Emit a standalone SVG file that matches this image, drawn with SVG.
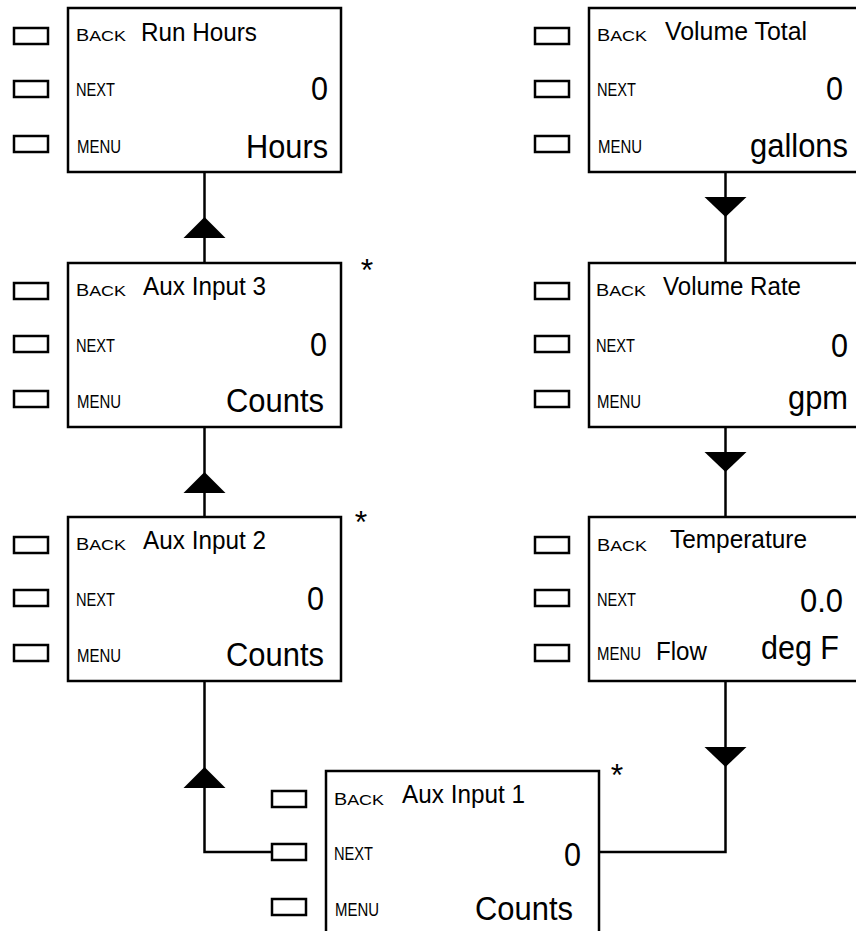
<svg xmlns="http://www.w3.org/2000/svg" xmlns:xlink="http://www.w3.org/1999/xlink" width="856" height="931" viewBox="0 0 856 931">
<style>
.box{fill:#fff;stroke:#000;stroke-width:2.5}
.btn{fill:#fff;stroke:#000;stroke-width:2.5}
.ln{fill:none;stroke:#000;stroke-width:2.5}
.tri{fill:#000;stroke:none}
text{font-family:"Liberation Sans",Arial,sans-serif;fill:#000}
.bk{font-size:16px}
.bk tspan{font-size:14.5px}
.nx{font-size:18px}
.mn{font-size:18px}
.t{font-size:26px}
.v{font-size:33px;text-anchor:end}
.ast{font-size:32px;text-anchor:middle}
</style>
<defs>
<path id="up" d="M0,0 L21,21 L-21,21 Z"/>
<path id="dn" d="M0,0 L21,-20 L-21,-20 Z"/>
<rect id="b" width="34" height="16"/>
</defs>

<g id="connectors">
<line class="ln" x1="204.5" y1="172" x2="204.5" y2="263"/>
<line class="ln" x1="204.5" y1="427" x2="204.5" y2="517"/>
<polyline class="ln" points="272,852 204.5,852 204.5,681"/>
<line class="ln" x1="725.5" y1="172" x2="725.5" y2="263"/>
<line class="ln" x1="725.5" y1="427" x2="725.5" y2="517"/>
<polyline class="ln" points="725.5,681 725.5,852 599,852"/>
<use href="#up" class="tri" x="204.5" y="217"/>
<use href="#up" class="tri" x="204.5" y="472"/>
<use href="#up" class="tri" x="204.5" y="767"/>
<use href="#dn" class="tri" x="725.5" y="217"/>
<use href="#dn" class="tri" x="725.5" y="472"/>
<use href="#dn" class="tri" x="725.5" y="767"/>
</g>

<g id="run-hours">
<rect class="box" x="68" y="8" width="273" height="164"/>
<use href="#b" class="btn" x="14" y="28"/><use href="#b" class="btn" x="14" y="81"/><use href="#b" class="btn" x="14" y="136"/>
<text class="bk" x="76" y="41" textLength="50" lengthAdjust="spacingAndGlyphs">B<tspan>ACK</tspan></text>
<text class="t" x="141" y="41" textLength="116" lengthAdjust="spacingAndGlyphs">Run Hours</text>
<text class="nx" x="76" y="96" textLength="39" lengthAdjust="spacingAndGlyphs">NEXT</text>
<text class="v" x="328" y="100" textLength="17" lengthAdjust="spacingAndGlyphs">0</text>
<text class="mn" x="77" y="153" textLength="44" lengthAdjust="spacingAndGlyphs">MENU</text>
<text class="v" x="328" y="158" textLength="82" lengthAdjust="spacingAndGlyphs">Hours</text>
</g>

<g id="aux-input-3">
<rect class="box" x="68" y="263" width="273" height="164"/>
<use href="#b" class="btn" x="14" y="283"/><use href="#b" class="btn" x="14" y="336"/><use href="#b" class="btn" x="14" y="391"/>
<text class="bk" x="76" y="296" textLength="50" lengthAdjust="spacingAndGlyphs">B<tspan>ACK</tspan></text>
<text class="t" x="143" y="295" textLength="123" lengthAdjust="spacingAndGlyphs">Aux Input 3</text>
<text class="nx" x="76" y="352" textLength="39" lengthAdjust="spacingAndGlyphs">NEXT</text>
<text class="v" x="327" y="356" textLength="17" lengthAdjust="spacingAndGlyphs">0</text>
<text class="mn" x="77" y="408" textLength="44" lengthAdjust="spacingAndGlyphs">MENU</text>
<text class="v" x="324" y="412" textLength="98" lengthAdjust="spacingAndGlyphs">Counts</text>
<text class="ast" x="367" y="281">*</text>
</g>

<g id="aux-input-2">
<rect class="box" x="68" y="517" width="273" height="164"/>
<use href="#b" class="btn" x="14" y="537"/><use href="#b" class="btn" x="14" y="590"/><use href="#b" class="btn" x="14" y="645"/>
<text class="bk" x="76" y="550" textLength="50" lengthAdjust="spacingAndGlyphs">B<tspan>ACK</tspan></text>
<text class="t" x="143" y="549" textLength="123" lengthAdjust="spacingAndGlyphs">Aux Input 2</text>
<text class="nx" x="76" y="606" textLength="39" lengthAdjust="spacingAndGlyphs">NEXT</text>
<text class="v" x="324" y="610" textLength="17" lengthAdjust="spacingAndGlyphs">0</text>
<text class="mn" x="77" y="662" textLength="44" lengthAdjust="spacingAndGlyphs">MENU</text>
<text class="v" x="324" y="666" textLength="98" lengthAdjust="spacingAndGlyphs">Counts</text>
<text class="ast" x="361" y="533">*</text>
</g>

<g id="volume-total">
<rect class="box" x="589" y="8" width="273" height="164"/>
<use href="#b" class="btn" x="535" y="28"/><use href="#b" class="btn" x="535" y="81"/><use href="#b" class="btn" x="535" y="136"/>
<text class="bk" x="597" y="41" textLength="50" lengthAdjust="spacingAndGlyphs">B<tspan>ACK</tspan></text>
<text class="t" x="665" y="40" textLength="142" lengthAdjust="spacingAndGlyphs">Volume Total</text>
<text class="nx" x="597" y="96" textLength="39" lengthAdjust="spacingAndGlyphs">NEXT</text>
<text class="v" x="843" y="100" textLength="17" lengthAdjust="spacingAndGlyphs">0</text>
<text class="mn" x="598" y="153" textLength="44" lengthAdjust="spacingAndGlyphs">MENU</text>
<text class="v" x="848" y="157" textLength="98" lengthAdjust="spacingAndGlyphs">gallons</text>
</g>

<g id="volume-rate">
<rect class="box" x="589" y="263" width="273" height="164"/>
<use href="#b" class="btn" x="535" y="283"/><use href="#b" class="btn" x="535" y="336"/><use href="#b" class="btn" x="535" y="391"/>
<text class="bk" x="596" y="296" textLength="50" lengthAdjust="spacingAndGlyphs">B<tspan>ACK</tspan></text>
<text class="t" x="663" y="295" textLength="138" lengthAdjust="spacingAndGlyphs">Volume Rate</text>
<text class="nx" x="596" y="352" textLength="39" lengthAdjust="spacingAndGlyphs">NEXT</text>
<text class="v" x="848" y="357" textLength="17" lengthAdjust="spacingAndGlyphs">0</text>
<text class="mn" x="597" y="408" textLength="44" lengthAdjust="spacingAndGlyphs">MENU</text>
<text class="v" x="848" y="409" textLength="60" lengthAdjust="spacingAndGlyphs">gpm</text>
</g>

<g id="temperature">
<rect class="box" x="589" y="517" width="273" height="164"/>
<use href="#b" class="btn" x="535" y="537"/><use href="#b" class="btn" x="535" y="590"/><use href="#b" class="btn" x="535" y="645"/>
<text class="bk" x="597" y="551" textLength="50" lengthAdjust="spacingAndGlyphs">B<tspan>ACK</tspan></text>
<text class="t" x="670" y="548" textLength="137" lengthAdjust="spacingAndGlyphs">Temperature</text>
<text class="nx" x="597" y="606" textLength="39" lengthAdjust="spacingAndGlyphs">NEXT</text>
<text class="v" x="843" y="612" textLength="43" lengthAdjust="spacingAndGlyphs">0.0</text>
<text class="mn" x="597" y="660" textLength="44" lengthAdjust="spacingAndGlyphs">MENU</text>
<text class="t" x="656" y="660" textLength="51" lengthAdjust="spacingAndGlyphs">Flow</text>
<text class="v" x="839" y="659" textLength="78" lengthAdjust="spacingAndGlyphs">deg F</text>
</g>

<g id="aux-input-1">
<rect class="box" x="326" y="771" width="273" height="175"/>
<use href="#b" class="btn" x="272" y="791"/><use href="#b" class="btn" x="272" y="844"/><use href="#b" class="btn" x="272" y="899"/>
<text class="bk" x="334" y="805" textLength="50" lengthAdjust="spacingAndGlyphs">B<tspan>ACK</tspan></text>
<text class="t" x="402" y="803" textLength="123" lengthAdjust="spacingAndGlyphs">Aux Input 1</text>
<text class="nx" x="334" y="860" textLength="39" lengthAdjust="spacingAndGlyphs">NEXT</text>
<text class="v" x="581" y="866" textLength="17" lengthAdjust="spacingAndGlyphs">0</text>
<text class="mn" x="335" y="916" textLength="44" lengthAdjust="spacingAndGlyphs">MENU</text>
<text class="v" x="573" y="920" textLength="98" lengthAdjust="spacingAndGlyphs">Counts</text>
<text class="ast" x="617" y="786">*</text>
</g>
</svg>
